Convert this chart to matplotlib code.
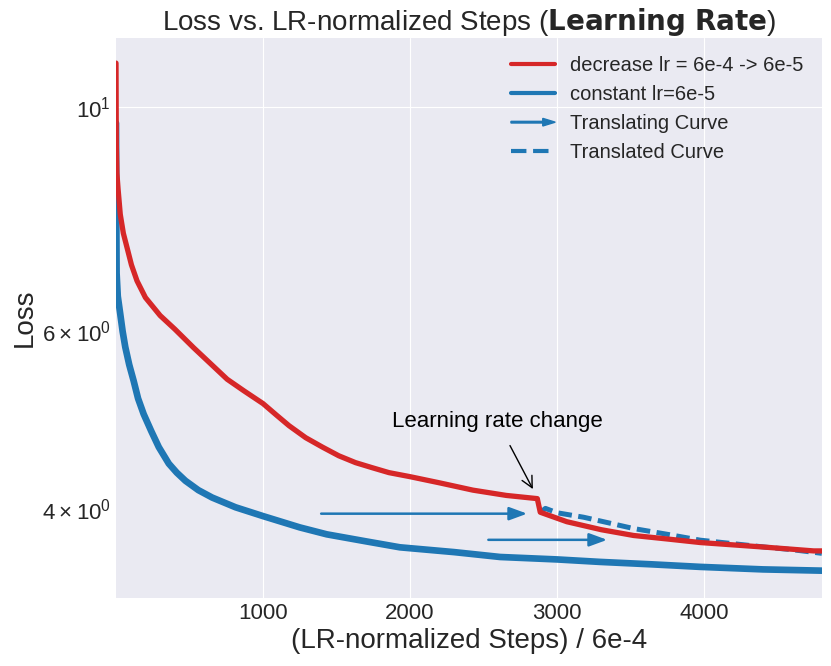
import matplotlib
matplotlib.use("Agg")
import matplotlib.pyplot as plt
import matplotlib.patches as mpatches
from matplotlib.lines import Line2D
from matplotlib.legend_handler import HandlerPatch

# ---- data ----
red_x = [0, 2, 6, 14, 29, 50, 75, 105, 143, 200, 300, 400, 528, 756, 870, 1000,
         1090, 1177, 1290, 1404, 1515, 1629, 1740, 1856, 2000, 2200, 2427, 2654,
         2865, 2885, 3066, 3300, 3520, 3750, 3973, 4200, 4427, 4744, 4800]
red_y = [11.05, 9.2, 8.6, 8.3, 7.83, 7.5, 7.26, 6.98, 6.73, 6.48, 6.22, 6.03,
         5.78, 5.38, 5.24, 5.09, 4.96, 4.84, 4.71, 4.61, 4.52, 4.45, 4.40, 4.35,
         4.31, 4.25, 4.18, 4.13, 4.10, 3.975, 3.89, 3.82, 3.77, 3.74, 3.71, 3.69,
         3.67, 3.64, 3.64]

blue_x = [0, 1, 2, 4, 12, 29, 45, 63, 90, 120, 150, 188, 240, 291, 359, 413, 472,
          560, 654, 813, 1000, 1250, 1433, 1700, 1930, 2300, 2612, 3000, 3292,
          3650, 3973, 4400, 4800]
blue_y = [9.64, 8.6, 7.8, 6.85, 6.5, 6.24, 6.0, 5.79, 5.56, 5.36, 5.15, 4.97,
          4.78, 4.61, 4.44, 4.35, 4.27, 4.18, 4.11, 4.02, 3.94, 3.84, 3.78, 3.72,
          3.67, 3.63, 3.59, 3.57, 3.55, 3.53, 3.51, 3.49, 3.48]

dash_x = [2888, 2920, 3000, 3180, 3350, 3520, 3750, 3973, 4200, 4427, 4600, 4800]
dash_y = [3.975, 4.01, 3.97, 3.93, 3.88, 3.83, 3.78, 3.73, 3.70, 3.67, 3.65, 3.62]

arrow1 = (1395, 2796, 3.962)   # x start, x tip, y
arrow2 = (2532, 3340, 3.733)

annot_text = (2592, 4.89)
annot_tip = (2835, 4.19)

labels = ["decrease lr = 6e-4 -> 6e-5", "constant lr=6e-5",
          "Translating Curve", "Translated Curve"]
xticks = [1000, 2000, 3000, 4000]

RED = "#d62728"
BLUE = "#1f77b4"

plt.style.use("seaborn-v0_8-darkgrid")
plt.rcParams["font.family"] = ["Liberation Sans", "DejaVu Sans"]

fig = plt.figure(figsize=(8.31, 6.66), dpi=100)
ax = fig.add_axes([0.1396, 0.1021, 0.8494, 0.8409])

ax.plot(blue_x, blue_y, color=BLUE, lw=4.8, solid_joinstyle="round", zorder=2)
ax.plot(dash_x, dash_y, color=BLUE, lw=3.6, dashes=(2.7, 1.3), zorder=2.5)
ax.plot(red_x, red_y, color=RED, lw=3.8, solid_joinstyle="round", zorder=3)

for (x0, x1, y) in (arrow1, arrow2):
    ax.annotate("", xy=(x1, y), xytext=(x0, y),
                arrowprops=dict(arrowstyle="-|>,head_length=0.6,head_width=0.22",
                                mutation_scale=18, lw=1.8, color=BLUE,
                                shrinkA=0, shrinkB=0))

ax.annotate("Learning rate change", xy=annot_tip, xytext=annot_text,
            ha="center", va="center", fontsize=16, color="black",
            arrowprops=dict(arrowstyle="->,head_length=0.5,head_width=0.25",
                            mutation_scale=16, color="black", lw=1.0,
                            shrinkA=9, shrinkB=0))

ax.set_yscale("log")
ax.set_xlim(0, 4800)
ax.set_ylim(3.27, 11.7)
ax.set_xticks(xticks)
ax.tick_params(axis="both", which="both", labelsize=16)

ax.set_xlabel("(LR-normalized Steps) / 6e-4", fontsize=20, labelpad=3)
ax.set_ylabel("Loss", fontsize=20, labelpad=3)
ax.set_title(r"Loss vs. LR-normalized Steps ($\bf{Learning\ Rate}$)", fontsize=20)


def make_arrow(legend, orig_handle, xdescent, ydescent, width, height, fontsize):
    return mpatches.FancyArrow(0, 0.5 * height, width, 0, length_includes_head=True,
                               width=1.2, head_width=5.5, head_length=9)


arrow_proxy = mpatches.FancyArrow(0, 0, 1, 0, color=BLUE)
handles = [Line2D([], [], color=RED, lw=3),
           Line2D([], [], color=BLUE, lw=3),
           arrow_proxy,
           Line2D([], [], color=BLUE, lw=3, ls="--")]
ax.legend(handles, labels, loc="upper right", fontsize=14.5, frameon=False,
          handlelength=2.2, handletextpad=0.75, labelspacing=0.5,
          borderaxespad=0.5,
          handler_map={arrow_proxy: HandlerPatch(patch_func=make_arrow)})

fig.savefig("out.png", dpi=100)
